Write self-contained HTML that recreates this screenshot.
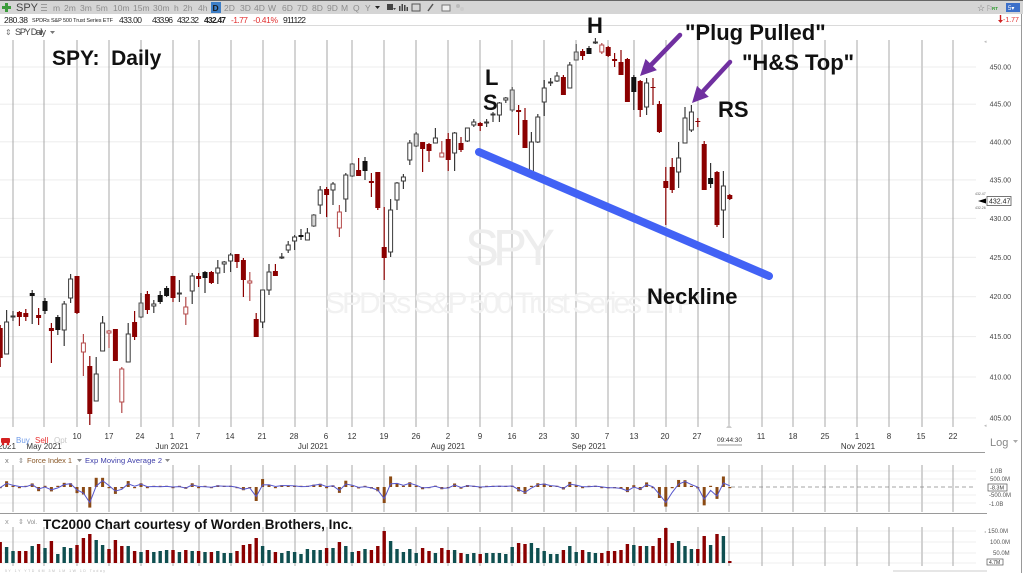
<!DOCTYPE html>
<html><head><meta charset="utf-8">
<style>
html,body{margin:0;padding:0;background:#fff;}
body{width:1023px;height:573px;overflow:hidden;}
svg{display:block;font-family:"Liberation Sans",Arial,sans-serif;}
</style></head><body>
<svg id="s" width="1023" height="573" viewBox="0 0 1023 573" xmlns="http://www.w3.org/2000/svg">
<rect width="1023" height="573" fill="#fff"/>
<!-- toolbar -->
<rect x="0" y="0" width="1023" height="14" fill="#d5d5d5"/>
<rect x="0" y="0" width="1023" height="1" fill="#666"/>
<path d="M5 3h3v3h3v3h-3v3h-3v-3h-3v-3h3z" fill="#3c9c3c"/>
<text x="16" y="11" font-size="11" fill="#444">SPY</text>
<g fill="#9a9a9a"><rect x="41" y="4" width="6" height="1"/><rect x="41" y="7" width="6" height="1"/><rect x="41" y="10" width="6" height="1"/></g>
<g font-size="8.5" fill="#8c8c8c">
<text x="53" y="11">m</text><text x="64" y="11">2m</text><text x="80" y="11">3m</text><text x="96" y="11">5m</text>
<text x="113" y="11">10m</text><text x="133" y="11">15m</text><text x="153" y="11">30m</text><text x="174" y="11">h</text>
<text x="183" y="11">2h</text><text x="198" y="11">4h</text>
<text x="224" y="11">2D</text><text x="240" y="11">3D</text><text x="254" y="11">4D</text><text x="268" y="11">W</text>
<text x="282" y="11">6D</text><text x="297" y="11">7D</text><text x="312" y="11">8D</text><text x="327" y="11">9D</text>
<text x="341" y="11">M</text><text x="353" y="11">Q</text><text x="365" y="11">Y</text>
</g>
<rect x="211" y="2" width="10" height="11" fill="#3d7ec6"/>
<text x="212.5" y="11" font-size="8.5" font-weight="bold" fill="#1a1a1a">D</text>
<polygon points="375,6 380,6 377.5,9" fill="#222"/>
<rect x="387" y="4" width="6" height="6" fill="#444"/><polygon points="393,8 396,8 394.5,10" fill="#444"/>
<g fill="#444"><rect x="399" y="6" width="1.5" height="5"/><rect x="401.5" y="4" width="1.5" height="7"/><rect x="404" y="5" width="1.5" height="6"/><rect x="406.5" y="7" width="1.5" height="4"/></g>
<rect x="412" y="4" width="8" height="7" fill="none" stroke="#555" stroke-width="1"/>
<line x1="428" y1="11" x2="433" y2="4" stroke="#555" stroke-width="1.5"/>
<rect x="442" y="5" width="8" height="6" fill="#eee" stroke="#777" stroke-width="1"/>
<circle cx="458" cy="6" r="2" fill="#bbb"/><circle cx="462" cy="9" r="2" fill="#ccc"/>
<text x="977" y="11" font-size="9" fill="#777">☆</text>
<text x="986" y="11" font-size="8" fill="#888">⚐</text>
<text x="992" y="10" font-size="4.5" fill="#2a9a2a" font-weight="bold">RT</text>
<rect x="1006" y="3" width="14" height="9" fill="#3b6fc9"/>
<text x="1008" y="10" font-size="6" fill="#fff">5▾</text>
<!-- quote row -->
<g font-size="8.5" fill="#222">
<text x="4" y="23" textLength="24">280.38</text>
<text x="32" y="22" font-size="5.5" textLength="81">SPDRs S&amp;P 500 Trust Series ETF</text>
<text x="119" y="23" textLength="23">433.00</text>
<text x="152" y="23" textLength="21">433.96</text>
<text x="177" y="23" textLength="22">432.32</text>
<text x="204" y="23" textLength="22" font-weight="bold">432.47</text>
<text x="231" y="23" textLength="17" fill="#e03030">-1.77</text>
<text x="253" y="23" textLength="25" fill="#e03030">-0.41%</text>
<text x="283" y="23" textLength="23">911122</text>
</g>
<polygon points="998,20 1003,20 1000.5,23" fill="#d02020"/><rect x="999.8" y="15" width="1.4" height="5" fill="#d02020"/>
<text x="1003" y="22" font-size="7" fill="#e03030">-1.77</text>
<rect x="0" y="25" width="1021" height="1" fill="#dadada"/>
<text x="5" y="35" font-size="8" fill="#777">⇕</text>
<text x="15" y="35" font-size="9" fill="#444" textLength="31">SPY Daily</text>
<polygon points="50,31 55,31 52.5,34" fill="#777"/>

<g id="grid"></g>
<!-- watermark -->
<text x="465" y="265" font-size="51" fill="#ededed" textLength="90">SPY</text>
<text x="325" y="313" font-size="30" fill="#f1f1f1" textLength="370">SPDRs S&amp;P 500 Trust Series ETF</text>
<g id="candles"></g>
<g id="force"></g>
<g id="vol"></g>

<!-- right price axis -->
<g font-size="7" fill="#444" text-anchor="end">
<text x="1011" y="69.5">450.00</text><text x="1011" y="106.7">445.00</text><text x="1011" y="144.3">440.00</text>
<text x="1011" y="182.4">435.00</text><text x="1011" y="220.9">430.00</text><text x="1011" y="259.8">425.00</text>
<text x="1011" y="299.2">420.00</text><text x="1011" y="339.1">415.00</text><text x="1011" y="379.5">410.00</text>
<text x="1011" y="420.4">405.00</text>
</g>
<text x="984" y="43" font-size="5" fill="#bbb">◂</text>
<text x="984" y="427" font-size="5" fill="#bbb">◂</text>
<polygon points="978,201 986,198.5 986,203.5" fill="#000"/>
<rect x="987" y="196.5" width="24" height="9" fill="#fff" stroke="#555" stroke-width="0.8"/>
<text x="989" y="203.5" font-size="7" fill="#222">432.47</text>
<text x="975" y="195" font-size="3.5" fill="#666">432.47</text>
<text x="975" y="209" font-size="3.5" fill="#666">432.26</text>
<rect x="1021" y="14" width="1" height="559" fill="#999"/>

<!-- date axis -->
<g font-size="8" fill="#333" text-anchor="middle" id="dates"></g>
<g font-size="8" fill="#333" text-anchor="middle">
<text x="172" y="449">Jun 2021</text><text x="313" y="449">Jul 2021</text><text x="448" y="449">Aug 2021</text>
<text x="589" y="449">Sep 2021</text><text x="858" y="449">Nov 2021</text><text x="44" y="449">May 2021</text>
<text x="7" y="449">2021</text>
</g>
<rect x="0" y="436" width="12" height="9" fill="#fff"/>
<rect x="1" y="438" width="9" height="5" rx="1" fill="#d42020"/><circle cx="3" cy="444" r="1.3" fill="#d42020"/><circle cx="8" cy="444" r="1.3" fill="#d42020"/>
<text x="16" y="443" font-size="8" fill="#6f9be8">Buy</text>
<text x="35" y="443" font-size="8" fill="#e83030">Sell</text>
<text x="54" y="443" font-size="8" fill="#c8c8c8">Opt</text>
<text x="717" y="442" font-size="6.5" fill="#333" textLength="25">09:44:30</text>
<line x1="717" y1="445" x2="742" y2="445" stroke="#777" stroke-width="0.8"/>
<polygon points="726,428 732,428 729,424.5" fill="#ccc"/>
<text x="990" y="446" font-size="11" fill="#888">Log</text>
<polygon points="1013,440 1018,440 1015.5,443" fill="#aaa"/>
<rect x="0" y="452" width="985" height="1" fill="#9a9a9a"/>

<!-- force header -->
<text x="5" y="463" font-size="7.5" fill="#777">x</text>
<text x="18" y="463" font-size="7" fill="#888">⇕</text>
<text x="27" y="463" font-size="7.5" fill="#8b5a2b" textLength="45">Force Index 1</text>
<polygon points="77,459 82,459 79.5,462" fill="#888"/>
<text x="85" y="463" font-size="7.5" fill="#3c3ca8" textLength="77">Exp Moving Average 2</text>
<polygon points="165,459 170,459 167.5,462" fill="#888"/>
<g font-size="6" fill="#555">
<text x="990" y="473">1.0B</text><text x="990" y="481">500.0M</text>
<text x="989" y="497">-500.0M</text><text x="989" y="506">-1.0B</text>
</g>
<rect x="988" y="484" width="19" height="7" fill="#fff" stroke="#555" stroke-width="0.7"/>
<text x="990" y="489.5" font-size="5.5" fill="#333">-8.3M</text>
<rect x="0" y="513" width="987" height="1" fill="#9a9a9a"/>

<!-- volume header -->
<text x="5" y="524" font-size="7.5" fill="#999">x</text>
<text x="18" y="524" font-size="7" fill="#999">⇕</text>
<text x="27" y="524" font-size="6" fill="#888">Vol.</text>
<text x="43" y="529" font-size="13.5" font-weight="bold" fill="#111" textLength="309">TC2000 Chart courtesy of Worden Brothers, Inc.</text>
<g font-size="6" fill="#555">
<text x="988" y="533">150.0M</text><text x="990" y="544">100.0M</text><text x="993" y="555">50.0M</text>
</g>
<text x="984" y="533" font-size="4" fill="#bbb">◂</text>
<rect x="987" y="559" width="16" height="6" fill="#fff" stroke="#555" stroke-width="0.7"/>
<text x="989" y="564" font-size="5" fill="#333">4.7M</text>
<text x="5" y="572" font-size="3.5" fill="#bbb" textLength="100">5Y  1Y  YTD  6M  3M  1M  1W  1D  Today</text>
<rect x="893" y="570.5" width="94" height="1" fill="#ccc"/>

<!-- annotations -->
<g font-weight="bold" fill="#111" font-size="22">
<text x="52" y="65" font-size="21">SPY:&#160; Daily</text>
<text x="587" y="33">H</text>
<text x="485" y="85">L</text>
<text x="483" y="110">S</text>
<text x="685" y="40">&quot;Plug Pulled&quot;</text>
<text x="742" y="70">&quot;H&amp;S Top&quot;</text>
<text x="718" y="117">RS</text>
<text x="647" y="304">Neckline</text>
</g>
<line x1="479" y1="152" x2="769" y2="276" stroke="#4262f5" stroke-width="8" stroke-linecap="round"/>
<line x1="680" y1="35" x2="651" y2="65" stroke="#7030a0" stroke-width="4.5" stroke-linecap="round"/>
<polygon points="640,76 656.9,70.1 645.5,58.9" fill="#7030a0"/>
<line x1="730" y1="62" x2="703" y2="91.3" stroke="#7030a0" stroke-width="4.5" stroke-linecap="round"/>
<polygon points="692,103 708.8,96.7 697,85.9" fill="#7030a0"/>
</svg>
<script>
(function(){
const NS="http://www.w3.org/2000/svg";
function el(tag,attrs,parent){const e=document.createElementNS(NS,tag);for(const k in attrs)e.setAttribute(k,attrs[k]);parent.appendChild(e);return e;}
const D=[
[325,328,358,367,'r'],[310,354,322,354,'h'],
[311,317,316,321,'h'],[311,312,317,326,'r'],[309,313,317,321,'r'],[290,293,296,324,'b'],[308,315,318,325,'r'],
[298,301,311,314,'b'],[323,328,331,363,'r'],[315,317,330,335,'b'],[301,330,304,346,'h'],[274,298,279,303,'h'],
[276,276,313,314,'r'],[334,352,343,376,'rh'],[356,366,414,425,'r'],[357,401,374,401,'h'],[316,351,323,351,'h'],
[330,333,331,348,'rh'],[329,329,361,361,'r'],[367,402,369,413,'rh'],[323,362,334,362,'h'],[311,322,337,340,'r'],
[293,317,303,318,'g'],[291,294,310,314,'r'],[300,306,304,313,'h'],[291,295,302,304,'b'],[286,288,296,297,'b'],
[276,276,298,302,'r'],[280,294,293,302,'h'],[297,314,307,325,'rh'],[273,291,276,304,'h'],
[273,276,279,287,'r'],[271,272,278,293,'b'],[271,272,283,284,'r'],[260,273,268,284,'h'],[261,264,262,273,'h'],
[253,261,255,272,'h'],[254,254,262,268,'r'],[258,260,280,297,'r'],[272,283,281,301,'rh'],[313,319,337,337,'r'],
[290,322,290,328,'h'],[264,290,272,295,'h'],[264,271,276,276,'r'],[253,258,257,259,'h'],[241,250,245,253,'h'],
[235,241,237,250,'h'],[229,235,237,240,'b'],[228,240,233,240,'h'],[214,226,215,227,'g'],[186,205,190,214,'h'],
[187,189,195,217,'r'],[182,190,184,205,'h'],[205,228,212,237,'rh'],[173,199,175,212,'h'],
[163,176,164,177,'g'],[158,170,176,176,'r'],[157,161,171,180,'b'],[173,181,183,197,'r'],[172,172,208,210,'r'],
[207,247,258,280,'r'],[199,252,210,257,'h'],[182,200,183,210,'h'],[174,181,177,189,'h'],[140,160,143,165,'h'],
[132,146,134,147,'g'],[142,142,149,172,'r'],[143,144,151,162,'r'],[128,143,138,143,'h'],[141,157,153,157,'rh'],
[133,139,160,171,'r'],[132,153,133,171,'h'],[137,143,150,152,'r'],[128,141,128,142,'h'],[119,125,122,127,'h'],
[122,123,126,131,'r'],[119,123,122,127,'h'],[112,115,114,122,'h'],[102,115,103,122,'h'],[97,100,98,103,'h'],
[87,110,90,112,'g'],[105,110,112,135,'r'],[108,120,148,148,'r'],[132,171,142,171,'h'],[114,142,117,143,'h'],
[80,102,88,116,'h'],[78,83,82,86,'h'],[72,81,76,82,'h'],[75,77,95,95,'r'],[62,88,65,88,'h'],
[44,60,52,60,'g'],[49,51,56,60,'r'],[46,48,54,54,'b'],[38,43,42,44,'h'],[43,52,45,54,'rh'],
[46,47,56,57,'r'],[53,59,61,67,'r'],[50,62,75,75,'r'],[58,59,102,102,'r'],
[75,77,92,110,'b'],[80,81,110,117,'r'],[78,107,83,115,'h'],[78,87,88,105,'r'],[101,104,132,133,'r'],
[167,181,188,225,'r'],[158,167,190,193,'r'],[142,172,158,188,'h'],[107,143,118,143,'h'],[105,130,112,132,'h'],
[118,121,122,127,'r'],[141,144,190,190,'r'],[163,178,184,188,'b'],[171,172,225,227,'r'],[171,210,186,238,'h'],
[194,195,199,200,'r']
];
const V=[21,16,
12,12,12,17,19,15,22,9,16,15,18,25,29,23,18,14,23,17,17,
12,11,13,11,12,13,13,11,13,12,12,11,11,12,10,10,12,
18,19,25,17,13,11,10,12,11,9,14,13,13,15,15,21,17,
11,12,14,13,17,32,22,14,11,14,10,15,12,10,15,13,13,10,9,10,9,10,10,10,9,16,20,
19,20,15,12,9,9,13,17,11,13,11,10,10,12,12,13,19,18,17,17,17,25,35,20,22,17,14,14,27,18,29,27,2];
const X=i=>13+6.4*i;
// grid
const gG=document.getElementById('grid');
const hy=[67,104.2,141.8,179.9,218.4,257.3,296.7,336.6,377,417.9];
hy.forEach(y=>el('rect',{x:0,y:y-0.5,width:976,height:1,fill:'#ececec'},gG));
[471,479,495,503].forEach(y=>el('rect',{x:0,y:y-0.5,width:976,height:1,fill:'#efefef'},gG));
[531,542,553,563].forEach(y=>el('rect',{x:0,y:y-0.5,width:976,height:1,fill:'#efefef'},gG));
const vx=[13,44,77,109,141,173,199,231,263,295,327,352,384,416,448,480,512,544,576,608,634,666,698,729,762,793,825,857,889,922,953];
const light=[77,141,327,416,544,634,922];
vx.forEach(x=>{const L=light.indexOf(x)>=0;const c=L?'#d2d2d2':'#a8a8a8';const w=L?2:1;
 [[40,427],[465,512],[527,566]].forEach(r=>el('rect',{x:x-w/2,y:r[0],width:w,height:r[1]-r[0],fill:c},gG));});
// date labels
const gD=document.getElementById('dates');
const dl=[[77,'10'],[109,'17'],[140,'24'],[172,'1'],[198,'7'],[230,'14'],[262,'21'],[294,'28'],[326,'6'],[352,'12'],[384,'19'],[416,'26'],[448,'2'],[480,'9'],[512,'16'],[543,'23'],[575,'30'],[607,'7'],[634,'13'],[665,'20'],[697,'27'],[761,'11'],[793,'18'],[825,'25'],[857,'1'],[889,'8'],[921,'15'],[953,'22']];
dl.forEach(d=>{const t=el('text',{x:d[0],y:439},gD);t.textContent=d[1];});
// candles
const gC=document.getElementById('candles');
D.forEach((d,k)=>{const i=k-2;const x=X(i);const h=d[0],o=d[1],c=d[2],l=d[3],t=d[4];
 const top=Math.min(o,c),bot=Math.max(o,c);const bh=Math.max(bot-top,1);
 let stroke,fill,wick;
 if(t==='h'){stroke='#3a3a3a';fill='#fff';wick='#3a3a3a';}
 else if(t==='g'){stroke='#555';fill='#d4d4d4';wick='#555';}
 else if(t==='b'){stroke='#111';fill='#111';wick='#333';}
 else if(t==='r'){stroke='#8b0000';fill='#8b0000';wick='#8b0000';}
 else {stroke='#b44a4a';fill='#fff';wick='#b44a4a';}
 el('rect',{x:x-0.6,y:h,width:1.2,height:Math.max(l-h,1),fill:wick},gC);
 if(t==='h'||t==='g'||t==='rh') el('rect',{x:x-2,y:top,width:4,height:bh,fill:fill,stroke:stroke,'stroke-width':1},gC);
 else el('rect',{x:x-2.5,y:top,width:5,height:bh,fill:fill},gC);
});
// volume
const gV=document.getElementById('vol');
D.forEach((d,k)=>{const i=k-2;const x=X(i);const up=(d[4]==='h'||d[4]==='g'||d[4]==='b');
 const h=V[k];el('rect',{x:x-1.7,y:563-h,width:3.4,height:h,fill:up?'#0f4f50':'#8b0000'},gV);});
// force
const gF=document.getElementById('force');
let ema=null;const pts=[];
D.forEach((d,k)=>{const i=k-2;const x=X(i);const up=(d[4]==='h'||d[4]==='g'||d[4]==='b');
 let dy=k>0?Math.abs(D[k-1][2]-d[2]):3;let fi=0.01*dy*V[k]*(up?1:-1);
 let mag=Math.max(Math.abs(fi),1.2);
 if(fi>=0) el('rect',{x:x-1.5,y:487-mag,width:3,height:mag,fill:'#8b4a14'},gF);
 else el('rect',{x:x-1.5,y:487,width:3,height:mag,fill:'#8b4a14'},gF);
 ema=(ema===null)?fi:ema+(2/3)*(fi-ema);
 pts.push(x.toFixed(1)+','+(487-ema).toFixed(1));
});
el('polyline',{points:pts.join(' '),fill:'none',stroke:'#5656cc','stroke-width':1},gF);
el('line',{x1:731,y1:487,x2:976,y2:487,stroke:'#888','stroke-width':0.8,'stroke-dasharray':'4,3'},gF);
})();
</script>
</body></html>
